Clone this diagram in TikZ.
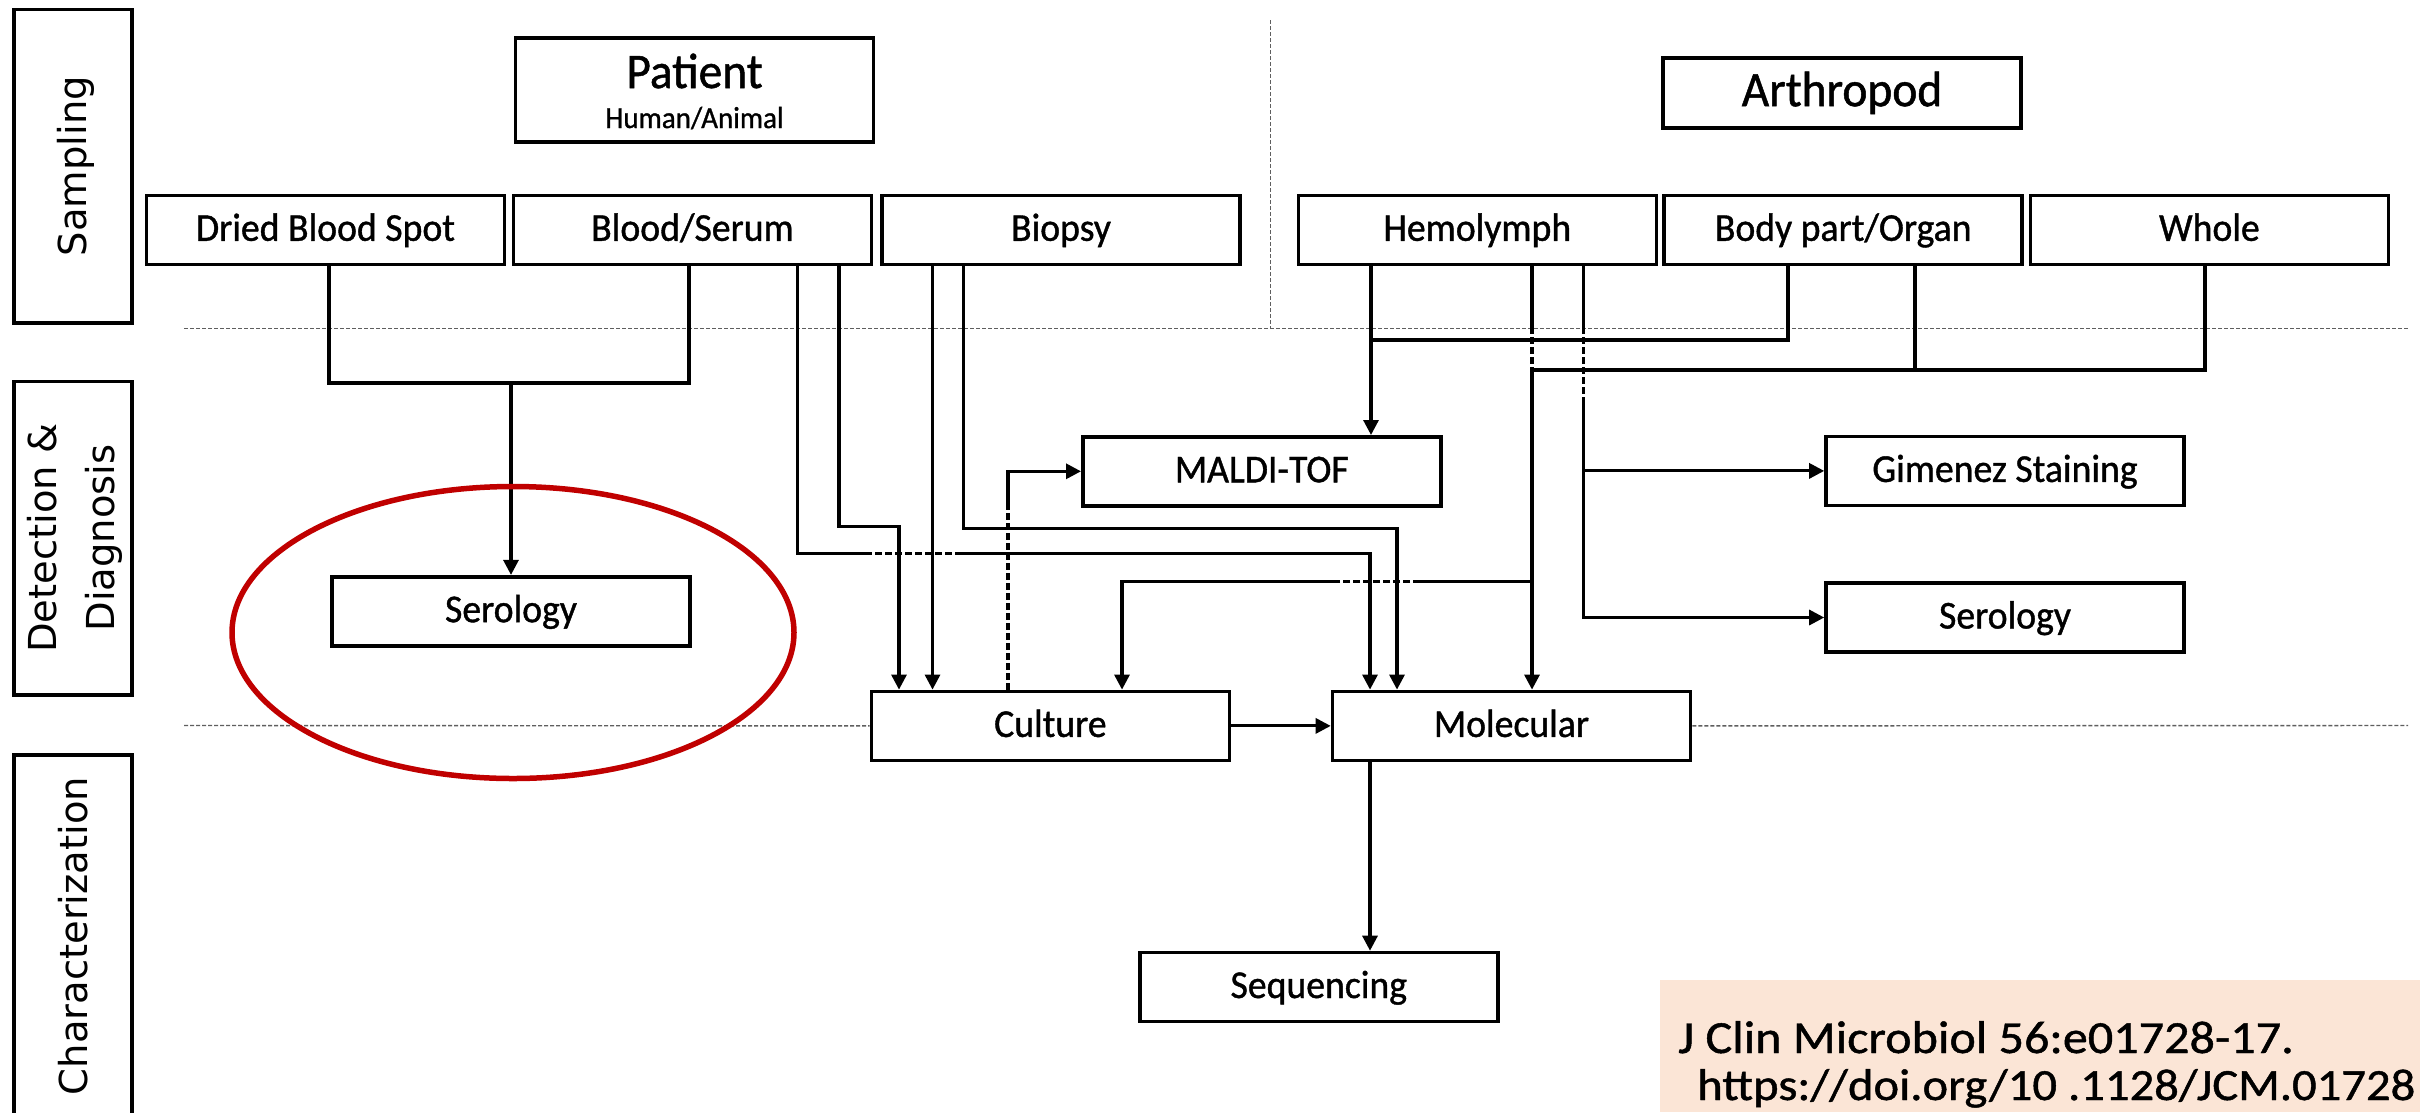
\documentclass[tikz,border=0pt]{standalone}
\usepackage{fontspec}
\setmainfont{Carlito}[FakeStretch=0.955,FakeBold=1]
\newfontfamily\citefont{Carlito}[FakeStretch=1.09,FakeBold=1]
\newfontfamily\rotfont{DejaVu Sans}
\usetikzlibrary{arrows.meta,calc}
\definecolor{peach}{RGB}{251,229,214}
\definecolor{ovalred}{RGB}{192,0,0}
\definecolor{sepgray}{RGB}{95,95,95}
\begin{document}
\begin{tikzpicture}[x=1pt,y=-1pt,
  box/.style={draw=black,line width=3.6pt,minimum width=358pt,minimum height=69pt,inner sep=0pt,
    font=\fontsize{39.5}{44}\selectfont,text height=22pt,text depth=0pt},
  lanebox/.style={draw=black,line width=3.6pt,minimum width=118pt,inner sep=0pt},
  lanetext/.style={font=\rotfont\fontsize{38.5}{57.5}\selectfont,rotate=90,align=center,inner sep=0pt},
  conn/.style={line width=3.1pt,draw=black},
  arr/.style={conn,-{Triangle[length=15pt,width=15pt]}},
  gap/.style={dash pattern=on 7pt off 3pt},
  sep/.style={draw=sepgray,line width=1.4pt,dash pattern=on 4pt off 2pt},
  cite/.style={anchor=base west,inner sep=0pt}
]
\fill[white] (0,0) rectangle (2420,1112);
\useasboundingbox (0,0) rectangle (2420,1112);

% separators
\draw[sep] (184,328.5) -- (2408,328.5);
\draw[sep] (1270.7,20) -- (1270.7,328.5);

% lane boxes
\node[lanebox,minimum height=313.4pt] (samp) at (72.9,166) {};
\node[lanetext] (samptxt) at (76,166) {Sampling};
\node[lanebox,minimum height=313.3pt] (det) at (72.9,538.3) {};
\node[lanetext] (dettxt) at (75,538) {Detection \&\\Diagnosis};
\node[lanebox,minimum height=363pt] (char) at (72.9,936.5) {};
\node[lanetext] (chartxt) at (73,936) {Characterization};

% top boxes
\node[box,minimum height=104pt] (pat) at (694.3,89.7) {};
\node[font=\fontsize{49.7}{54}\selectfont,anchor=base,inner sep=0pt] (patl) at (694.5,88) {Patient};
\node[font=\fontsize{30.4}{34}\selectfont,anchor=base,inner sep=0pt] (pats) at (694.5,128) {Human/Animal};
\node[box,minimum height=70pt,font=\fontsize{49.7}{54}\selectfont,text height=27pt] (arth) at (1842,92.7) {Arthropod};

% sample row
\node[box] (dbs) at (325.5,229.8) {Dried Blood Spot};
\node[box] (bs) at (692.5,229.8) {Blood/Serum};
\node[box] (bio) at (1061,229.8) {Biopsy};
\node[box] (hem) at (1477.3,229.8) {Hemolymph};
\node[box] (body) at (1843.2,229.8) {Body part/Organ};
\node[box] (who) at (2209.4,229.8) {Whole};

% detection row
\node[box] (serl) at (511,611.2) {Serology};
\node[box] (maldi) at (1261.8,471.3) {MALDI-TOF};
\node[box] (gim) at (2005,470.9) {Gimenez Staining};
\node[box] (serr) at (2005,617.5) {Serology};
\node[box] (cult) at (1050.4,725.9) {Culture};
\node[box] (mol) at (1511.5,725.9) {Molecular};
\node[box] (seq) at (1318.8,987) {Sequencing};

\draw[sep] (184,725.5) -- (cult.west);
\draw[sep] (mol.east) -- (2408,725.5);

% connection points
\coordinate (dbsA) at ([xshift=3.5pt]dbs.south);
\coordinate (bsJ) at ([xshift=-3.5pt]bs.south);
\coordinate (bsA) at ([xshift=105pt]bs.south);
\coordinate (bsB) at ([xshift=146.5pt]bs.south);
\coordinate (bioA) at ([xshift=-128.5pt]bio.south);
\coordinate (bioB) at ([xshift=-97.5pt]bio.south);
\coordinate (hemA) at ([xshift=-106.3pt]hem.south);
\coordinate (hemB) at ([xshift=54.7pt]hem.south);
\coordinate (hemC) at ([xshift=106.2pt]hem.south);
\coordinate (bodA) at ([xshift=-55.2pt]body.south);
\coordinate (bodB) at ([xshift=71.8pt]body.south);
\coordinate (whoA) at ([xshift=-4.4pt]who.south);
\coordinate (molA) at ([xshift=-141.5pt]mol.south);
\coordinate (molB) at ([xshift=-114.5pt]mol.north);
\coordinate (cuA) at ([xshift=-151.4pt]cult.north);
\coordinate (cuM) at ([xshift=-42.4pt]cult.north);
\coordinate (cuC) at ([xshift=71.6pt]cult.north);
% levels
\coordinate (yDB) at (0,383);
\coordinate (yBSA) at (0,553.3);
\coordinate (yBSB) at (0,526.7);
\coordinate (yBIO) at (0,528.3);
\coordinate (yBOD) at (0,340);
\coordinate (yWHO) at (0,370);
\coordinate (yMC) at (0,581.7);
\coordinate (yCM) at (0,503);
\coordinate (yG5) at (0,327);
\coordinate (yG6) at (0,397);
\coordinate (xG1) at (865,0);
\coordinate (xG2) at (962,0);
\coordinate (xG3) at (1340,0);
\coordinate (xG4) at (1420,0);

% patient side
\draw[conn] (dbsA) -- (dbsA |- yDB) -- (bsJ |- yDB) -- (bsJ);
\draw[arr] (serl.north |- yDB) -- (serl.north);
\draw[conn] (bsA) -- (bsA |- yBSA) -- (xG1 |- yBSA);
\draw[conn,gap] (xG1 |- yBSA) -- (xG2 |- yBSA);
\draw[arr] (xG2 |- yBSA) -| (molA |- mol.north);
\draw[arr] (bsB) -- (bsB |- yBSB) -| (cuA);
\draw[arr] (bioA) -- (bioA |- cult.north);
\draw[arr] (bioB) -- (bioB |- yBIO) -| (molB);
\draw[conn,gap] (cuM) -- (cuM |- yCM);
\draw[arr] (cuM |- yCM) |- (maldi.west);

% arthropod side
\draw[arr] (hemA) -- (hemA |- maldi.north);
\draw[conn] (bodA) -- (bodA |- yBOD) -- (hemA |- yBOD);
\draw[conn] (hemB) -- (hemB |- yG5);
\draw[conn,gap] (hemB |- yG5) -- (hemB |- yWHO);
\draw[arr] (hemB |- yWHO) -- (hemB |- mol.north);
\draw[conn] (whoA) -- (whoA |- yWHO) -- (hemB |- yWHO);
\draw[conn] (bodB) -- (bodB |- yWHO);
\draw[conn] (hemB |- yMC) -- (xG4 |- yMC);
\draw[conn,gap] (xG4 |- yMC) -- (xG3 |- yMC);
\draw[arr] (xG3 |- yMC) -| (cuC);
\draw[conn] (hemC) -- (hemC |- yG5);
\draw[conn,gap] (hemC |- yG5) -- (hemC |- yG6);
\draw[arr] (hemC |- yG6) |- (gim.west);
\draw[arr] (hemC |- yG6) |- (serr.west);

% lower flow
\draw[arr] (cult.east) -- (mol.west);
\draw[arr] (molA) -- (molA |- seq.north);

% highlight
\draw[ovalred,line width=5.5pt] (513,632.5) ellipse [x radius=281, y radius=146];

% citation
\node[fill=peach,minimum width=760pt,minimum height=132pt,inner sep=0pt,anchor=north west] (citebox) at (1660,980) {};
\node[cite,font=\citefont\fontsize{46}{48}\selectfont] (cit1) at (1678,1053) {J Clin Microbiol 56:e01728-17.};
\node[cite,font=\citefont\fontsize{44.6}{48}\selectfont] (cit2) at (1697,1100) {https://doi.org/10 .1128/JCM.01728};
\end{tikzpicture}
\end{document}
